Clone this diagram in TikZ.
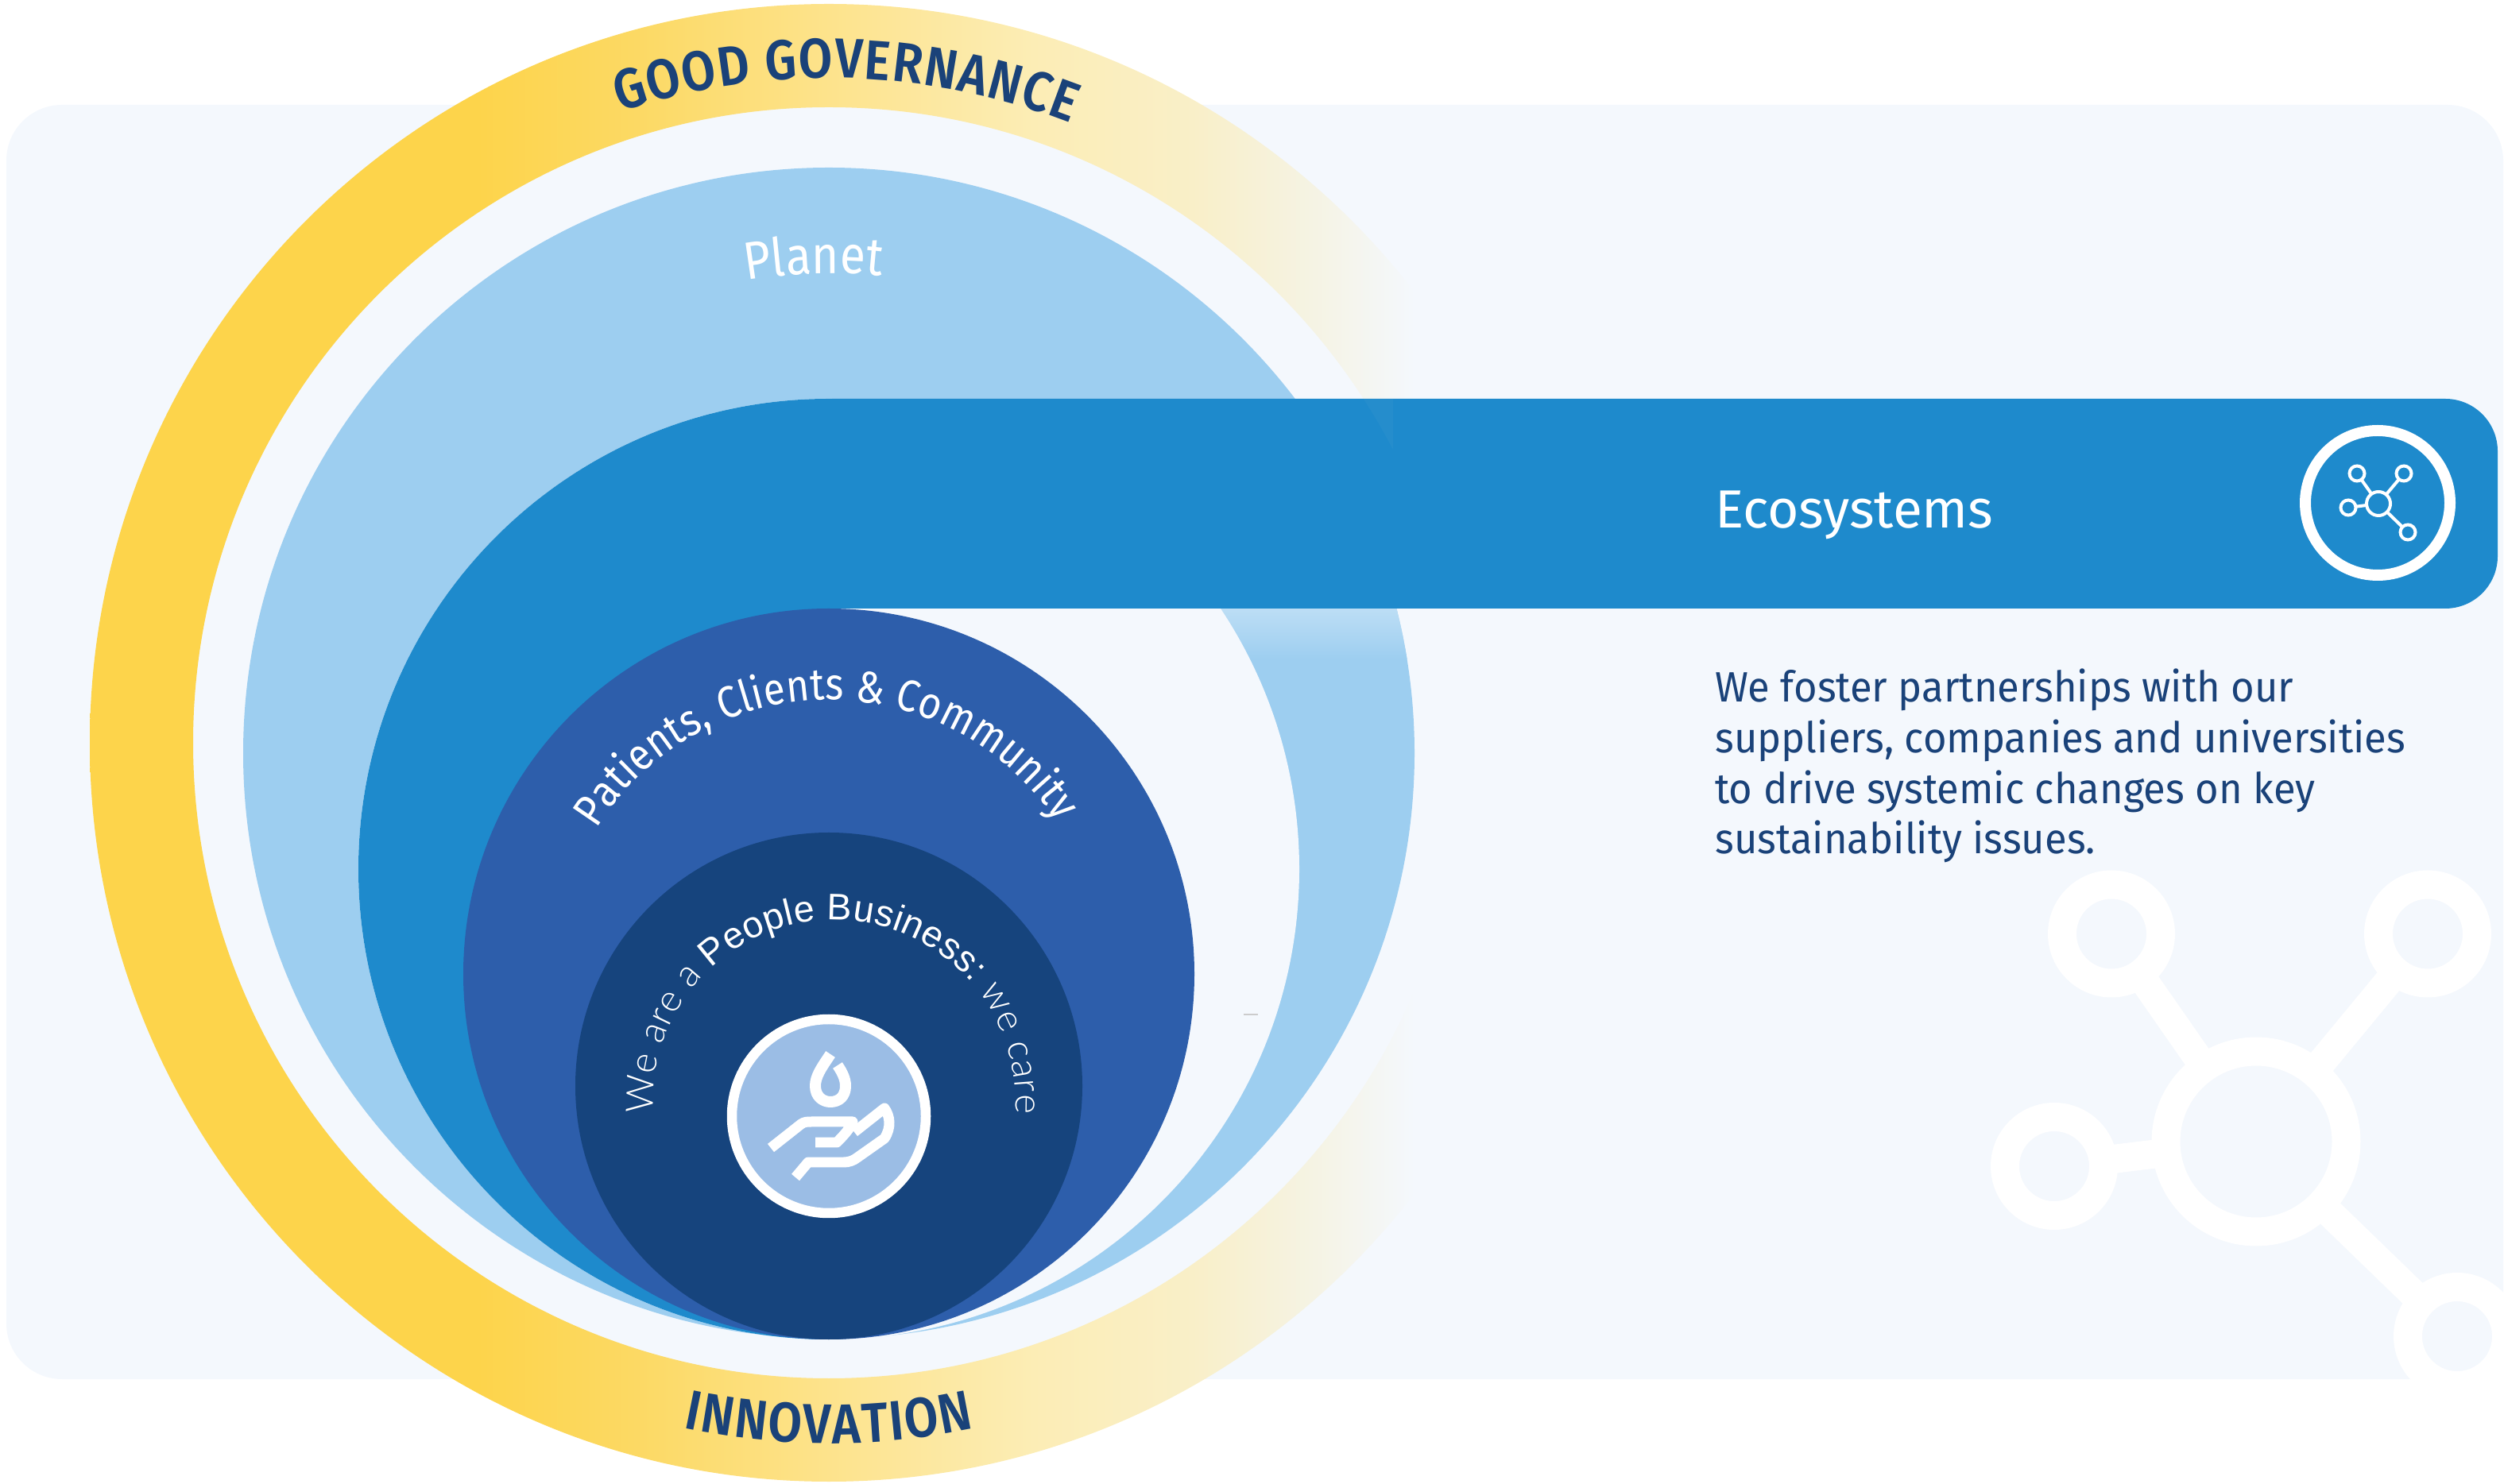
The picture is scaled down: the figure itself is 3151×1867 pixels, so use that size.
\documentclass[tikz,border=0pt]{standalone}
\usepackage{fontspec}
\setmainfont{Fira Sans}
\newfontfamily\barlow[FakeStretch=0.88]{Fira Sans}
\newfontfamily\bodyf[FakeStretch=0.95]{Fira Sans}
\newfontfamily\barlowb[FakeStretch=0.88]{Fira Sans SemiBold}
\newfontfamily\thinf{Lato Light}
\newfontfamily\regf{Liberation Sans}
\newcommand{\wThin}{\thinf\fontsize{27}{30}\selectfont\color{white}}
\newcommand{\wReg}{\regf\fontsize{26.5}{30}\selectfont\color{white}}
\usetikzlibrary{decorations.text}
\definecolor{pagebg}{HTML}{F4F8FD}
\definecolor{planetc}{HTML}{9DCEF0}
\definecolor{ecoc}{HTML}{1E8ACC}
\definecolor{patc}{HTML}{2D5EAB}
\definecolor{innerc}{HTML}{16447D}
\definecolor{iconc}{HTML}{9BBDE5}
\definecolor{inkc}{HTML}{1A4279}
\definecolor{gA}{HTML}{FDD44B}
\definecolor{gB}{HTML}{FCD964}
\definecolor{gC}{HTML}{FDE38C}
\definecolor{gD}{HTML}{FCEDB5}
\definecolor{gE}{HTML}{F9EFC8}
\definecolor{gF}{HTML}{F5F3E3}
\pgfdeclarehorizontalshading{goldfade}{100bp}{
color(0bp)=(gA);
color(38.1bp)=(gA);
color(43.5bp)=(gB);
color(50bp)=(gC);
color(56.9bp)=(gD);
color(62.3bp)=(gE);
color(66.3bp)=(gF);
color(69.8bp)=(pagebg);
color(100bp)=(pagebg)}
\tikzset{
  x=0.02cm,y=0.02cm,
  bigring/.style={circle,draw=white,line width=0.72cm,inner sep=0pt,outer sep=0pt,minimum size=#1*0.02cm},
  smallring/.style={circle,draw=white,line width=0.08cm,inner sep=0pt,outer sep=0pt,minimum size=#1*0.02cm},
  bigstem/.style={draw=white,line width=0.72cm},
  smallstem/.style={draw=white,line width=0.08cm},
  handline/.style={draw=white,line width=0.26cm,line join=round},
  curved/.style={decorate,decoration={text along path,text={#1},text align=fit to path}},
}
\begin{document}
\begin{tikzpicture}
\useasboundingbox (0,0) rectangle (3151,1867);
% panel
\fill[pagebg,rounded corners=1.4cm] (8,131) rectangle (3150,1735);
% large watermark molecule
\node[bigring=227] (wc) at (2839,430) {};
\node[bigring=124] (w1) at (2657,691.5) {};
\node[bigring=124] (w2) at (3055,691.5) {};
\node[bigring=124] (w3) at (2585,399) {};
\node[bigring=124] (w4) at (3092,185) {};
\draw[bigstem] (wc) -- (w1);
\draw[bigstem] (wc) -- (w2);
\draw[bigstem] (wc) -- (w3);
\draw[bigstem] (wc) -- (w4);
% gold ring
\shade[shading=goldfade,even odd rule] (1043,932) circle (930) (1043,932) circle (800);
% planet
\fill[planetc] (1043,919) circle (737);
\begin{scope}
\clip (1043,919) circle (737);
\shade[top color=planetc!68!white,bottom color=planetc] (1400,1037) rectangle (1800,1101);
\end{scope}
\fill[pagebg] (1043,773) circle (592);
% ecosystems band
\fill[ecoc] (1043,181) arc (-90:-270:592) -- (3077,1365) arc (90:0:66) -- (3143,1167) arc (0:-90:66) -- (1043,1101) -- cycle;
% faint end of the gold ring over the band
\begin{scope}[even odd rule]
\clip (1043,932) circle (930) (1043,932) circle (800);
\fill[gF,opacity=0.035] (1700,1290) rectangle (1753,1365);
\end{scope}
% circles
\fill[patc] (1043,641) circle (460);
\fill[innerc] (1043,500) circle (319);
\draw[white,line width=0.25cm,fill=iconc] (1043,462) circle (122);
% hand and drop
\draw[handline,line width=0.28cm] (1045,540) .. controls (1033,522) and (1026,512) .. (1026,500) .. controls (1026,487) and (1035,480) .. (1045,480) .. controls (1056,480) and (1064,487) .. (1064,500) .. controls (1064,509) and (1060,517) .. (1054,526);
\draw[handline] (970,422) -- (1008,452) .. controls (1012,455) and (1016,455) .. (1021,455) -- (1073,455) .. controls (1070,448) and (1066,442) .. (1053,429) -- (1026,429);
\draw[handline] (1075,442) -- (1113,472) .. controls (1120,462) and (1122,448) .. (1113,434) -- (1079,410) .. controls (1074,406) and (1068,404) .. (1062,404) -- (1017,404) -- (1001,385);
% ecosystems icon
\draw[white,line width=0.28cm] (2992,1234) circle (91);
\node[smallring=30] (ic) at (2993,1233) {};
\node[smallring=19] (i1) at (2966,1271) {};
\node[smallring=19] (i2) at (3025,1271) {};
\node[smallring=19] (i3) at (2955,1228) {};
\node[smallring=19] (i4) at (3030,1197) {};
\draw[smallstem] (ic) -- (i1);
\draw[smallstem] (ic) -- (i2);
\draw[smallstem] (ic) -- (i3);
\draw[smallstem] (ic) -- (i4);
% texts
\node[anchor=base west,inner sep=0pt,text=white,font=\fontsize{38.5}{44}\selectfont] (ecotitle) at (2158,1202) {Ecosystems};
\node[anchor=base west,inner sep=0pt,text=inkc,align=left,font=\bodyf\fontsize{30.4}{36.3}\selectfont] (ecobody) at (2158,792) {We foster partnerships with our\\suppliers, companies and universities\\to drive systemic changes on key\\sustainability issues.};
\path[curved={|\barlowb\fontsize{40}{44}\selectfont\color{inkc}|GOOD GOVERNANCE}] (1043,932) ++(108.3:837) arc (108.3:68.7:837);
\path[curved={|\barlowb\fontsize{40}{44}\selectfont\color{inkc}|INNOVATION}] (1043,932) ++(258:882) arc (258:282:882);
\path[curved={|\barlow\fontsize{38}{40}\selectfont\color{white}|Planet}] (1043,919) ++(99.9:604) arc (99.9:83.8:604);
\path[curved={|\barlow\fontsize{32}{34}\selectfont\color{white}|Patients, Clients {\&} Community}] (1043,641) ++(148:345) arc (148:33.5:345);
\path[curved={|\wThin|We are a |\wReg|People Business: |\wThin|we care}] (1050,481) ++(184:228) arc (184:-4:228);
\draw[line width=0.03cm,color=black!20] (1565,590) -- (1583,590);
\end{tikzpicture}
\end{document}
